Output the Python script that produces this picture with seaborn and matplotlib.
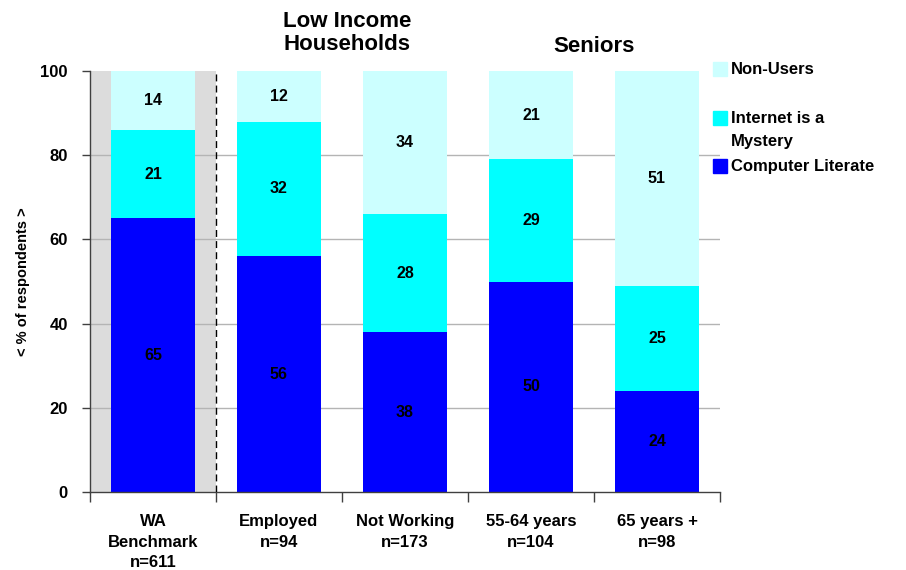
import pandas as pd
import matplotlib.pyplot as plt
import matplotlib.patches as mpatches
import seaborn as sns

# data
categories = ['WA\nBenchmark\nn=611', 'Employed\nn=94', 'Not Working\nn=173',
              '55-64 years\nn=104', '65 years +\nn=98']
computer_literate = [65, 56, 38, 50, 24]
internet_mystery = [21, 32, 28, 29, 25]
non_users = [14, 12, 34, 21, 51]

df = pd.DataFrame({'cat': categories, 'comp': computer_literate,
                   'mys': internet_mystery, 'non': non_users})
df['lvl2'] = df['comp'] + df['mys']
df['lvl3'] = df['lvl2'] + df['non']

col_comp = '#0000FF'
col_mys = '#00FFFF'
col_non = '#CCFFFF'

sns.set_style('white')
plt.rcParams['font.family'] = ['Liberation Sans', 'DejaVu Sans']
plt.rcParams['font.weight'] = 'bold'
plt.rcParams['text.color'] = 'black'
plt.rcParams['xtick.color'] = 'black'
plt.rcParams['ytick.color'] = 'black'
plt.rcParams['axes.labelcolor'] = 'black'

fig = plt.figure(figsize=(9.06, 5.70), dpi=100)
ax = fig.add_axes([0.0993, 0.1368, 0.6954, 0.7386])

# gray background behind the benchmark bar
ax.axvspan(-0.5, 0.5, color='#DCDCDC', zorder=0, lw=0)
for y in [20, 40, 60, 80]:
    ax.axhline(y, color='#B4B4B4', lw=1, zorder=0.5)

w = 0.66
sns.barplot(data=df, x='cat', y='lvl3', color=col_non, width=w, ax=ax,
            saturation=1, zorder=2, linewidth=0)
sns.barplot(data=df, x='cat', y='lvl2', color=col_mys, width=w, ax=ax,
            saturation=1, zorder=2, linewidth=0)
sns.barplot(data=df, x='cat', y='comp', color=col_comp, width=w, ax=ax,
            saturation=1, zorder=2, linewidth=0)

# segment labels
for i, r in df.iterrows():
    ax.text(i, r['comp'] / 2, str(r['comp']), ha='center', va='center',
            fontsize=11.5, fontweight='bold', zorder=3)
    ax.text(i, r['comp'] + r['mys'] / 2, str(r['mys']), ha='center', va='center',
            fontsize=11.5, fontweight='bold', zorder=3)
    ax.text(i, r['lvl2'] + r['non'] / 2, str(r['non']), ha='center', va='center',
            fontsize=11.5, fontweight='bold', zorder=3)

# dashed separator
ax.plot([0.5, 0.5], [0, 100], color='black', lw=1, ls=(0, (5, 3)), zorder=3)

ax.set_xlim(-0.5, 4.5)
ax.set_ylim(0, 100)
ax.set_yticks([0, 20, 40, 60, 80, 100])
ax.set_xticks(range(5))
ax.set_xticklabels(categories, fontsize=12, fontweight='bold', linespacing=1.45)
ax.set_xticks([-0.5, 0.5, 1.5, 2.5, 3.5, 4.5], minor=True)
ax.tick_params(axis='x', which='major', bottom=True, length=0, pad=16)
ax.tick_params(axis='x', which='minor', bottom=True, length=7, width=1,
               direction='out', color='#404040')
ax.tick_params(axis='y', left=True, length=6, width=1, direction='out',
               color='#404040', labelsize=12, pad=10)
for lbl in ax.get_yticklabels():
    lbl.set_fontweight('bold')
ax.set_xlabel('')
ax.set_ylabel('< % of respondents >', fontsize=10.5, fontweight='bold')
ax.yaxis.set_label_coords(-0.095, 0.5)

sns.despine(ax=ax, top=True, right=True)
for s in ['left', 'bottom']:
    ax.spines[s].set_color('#404040')
    ax.spines[s].set_linewidth(1)

# group headers
fig.text(347 / 906, 1 - 33 / 570, 'Low Income\nHouseholds', ha='center', va='center',
         fontsize=16, fontweight='bold', linespacing=1.1)
fig.text(594 / 906, 1 - 46 / 570, 'Seniors', ha='center', va='center',
         fontsize=16, fontweight='bold')

# legend
leg_items = [(col_non, 'Non-Users', 69, 69), (col_mys, 'Internet is a\nMystery', 118, 130),
             (col_comp, 'Computer Literate', 166, 166)]
for c, lab, ypx, ytxt in leg_items:
    fig.patches.append(mpatches.Rectangle((713 / 906, 1 - (ypx + 7) / 570), 14 / 906, 14 / 570,
                                          transform=fig.transFigure, color=c))
    fig.text(731 / 906, 1 - ytxt / 570, lab, ha='left', va='center', fontsize=12,
             fontweight='bold', linespacing=1.6)

fig.savefig('out.png', dpi=100)
